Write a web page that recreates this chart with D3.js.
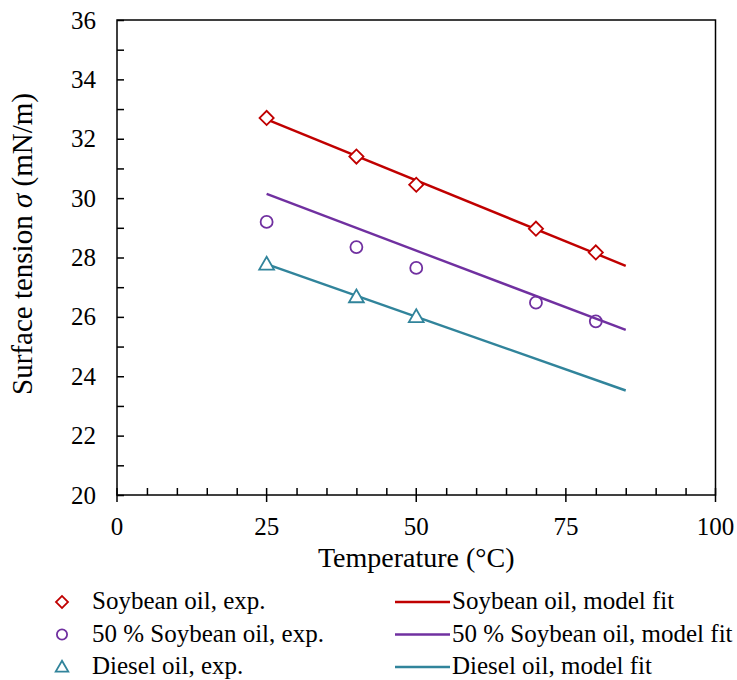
<!DOCTYPE html>
<html>
<head>
<meta charset="utf-8">
<script src="https://cdn.jsdelivr.net/npm/d3@7"></script>
<style>
  body { margin: 0; background: #fff; }
  text { font-family: "Liberation Serif", "Times New Roman", serif; fill: #000; }
</style>
</head>
<body>
<svg id="chart" width="737" height="680"></svg>
<script>
// measured points
const soyT = [25, 40, 50, 70, 80];
const soySigma = [32.7, 31.4, 30.45, 28.97, 28.17];
const mixT = [25, 40, 50, 70, 80];
const mixSigma = [29.2, 28.35, 27.65, 26.48, 25.85];
const dieselT = [25, 40, 50];
const dieselSigma = [27.77, 26.67, 26.0];

// model fit end points
const fitT = [25, 85];
const soyFit = [32.65, 27.72];
const mixFit = [30.14, 25.56];
const dieselFit = [27.78, 23.52];

const xTicks = [0, 25, 50, 75, 100];
const yTicks = [20, 22, 24, 26, 28, 30, 32, 34, 36];

const colors = { soy: '#C00000', mix: '#7030A0', diesel: '#31849B' };

const svg = d3.select('#chart');
const x = d3.scaleLinear().domain([0, 100]).range([117, 715.5]);
const y = d3.scaleLinear().domain([20, 36]).range([495, 20]);

// frame
svg.append('rect')
  .attr('x', x(0)).attr('y', y(36))
  .attr('width', x(100) - x(0)).attr('height', y(20) - y(36))
  .attr('fill', 'none').attr('stroke', '#000').attr('stroke-width', 1.5);

// y axis: ticks inside
const yAxis = d3.axisRight(y).tickValues(d3.range(20, 36.1, 1)).tickSize(7).tickFormat('');
svg.append('g').attr('transform', 'translate(' + x(0) + ',0)').call(yAxis)
  .call(g => g.select('.domain').remove())
  .call(g => g.selectAll('line').attr('stroke-width', 1.5));

svg.append('g').selectAll('text').data(yTicks).enter().append('text')
  .attr('x', 96).attr('y', d => y(d) + 8.5)
  .attr('text-anchor', 'end').attr('font-size', 25)
  .text(d => d);

// x axis: minor ticks inside, major ticks cross
const xAxis = d3.axisTop(x).tickValues(d3.range(5, 100, 5).filter(d => d % 25 !== 0)).tickSize(7).tickFormat('');
svg.append('g').attr('transform', 'translate(0,' + y(20) + ')').call(xAxis)
  .call(g => g.select('.domain').remove())
  .call(g => g.selectAll('line').attr('stroke-width', 1.5));

svg.append('g').selectAll('line').data(xTicks).enter().append('line')
  .attr('x1', d => x(d)).attr('x2', d => x(d))
  .attr('y1', y(20) - 7).attr('y2', y(20) + 7)
  .attr('stroke', '#000').attr('stroke-width', 1.5);

svg.append('g').selectAll('text').data(xTicks).enter().append('text')
  .attr('x', d => x(d)).attr('y', 535)
  .attr('text-anchor', 'middle').attr('font-size', 25)
  .text(d => d);

// axis titles
svg.append('text')
  .attr('x', (x(0) + x(100)) / 2).attr('y', 567)
  .attr('text-anchor', 'middle').attr('font-size', 28)
  .text('Temperature (°C)');

const yt = svg.append('text')
  .attr('transform', 'translate(32,244) rotate(-90)')
  .attr('text-anchor', 'middle').attr('font-size', 29);
yt.append('tspan').text('Surface tension ');
yt.append('tspan').attr('font-style', 'italic').text('σ');
yt.append('tspan').text(' (mN/m)');

// fit lines
const line = d3.line().x(d => x(d[0])).y(d => y(d[1]));
[[soyFit, colors.soy], [mixFit, colors.mix], [dieselFit, colors.diesel]].forEach(function(s) {
  svg.append('path')
    .attr('d', line(d3.zip(fitT, s[0])))
    .attr('fill', 'none').attr('stroke', s[1]).attr('stroke-width', 2.4);
});

// markers
function marker(g, kind, color, cx, cy, scale) {
  if (kind === 'diamond') {
    g.append('path').attr('d', d3.symbol().type(d3.symbolSquare).size(100 * scale * scale)())
      .attr('transform', 'translate(' + cx + ',' + cy + ') rotate(45)')
      .attr('fill', '#fff').attr('stroke', color).attr('stroke-width', 1.8);
  } else if (kind === 'circle') {
    g.append('circle').attr('cx', cx).attr('cy', cy).attr('r', 6 * scale)
      .attr('fill', 'none').attr('stroke', color).attr('stroke-width', 1.8);
  } else {
    g.append('path').attr('d', d3.symbol().type(d3.symbolTriangle).size(95 * scale * scale)())
      .attr('transform', 'translate(' + cx + ',' + (cy + 1) + ')')
      .attr('fill', '#fff').attr('stroke', color).attr('stroke-width', 1.8);
  }
}

function drawMarkers(ts, vs, kind, color) {
  const g = svg.append('g');
  d3.zip(ts, vs).forEach(function(p) {
    marker(g, kind, color, x(p[0]), y(p[1]), 1);
  });
}

drawMarkers(soyT, soySigma, 'diamond', colors.soy);
drawMarkers(mixT, mixSigma, 'circle', colors.mix);
drawMarkers(dieselT, dieselSigma, 'triangle', colors.diesel);

// legend
const legendRows = [
  { kind: 'diamond', color: colors.soy, exp: 'Soybean oil, exp.', fit: 'Soybean oil, model fit' },
  { kind: 'circle', color: colors.mix, exp: '50 % Soybean oil, exp.', fit: '50 % Soybean oil, model fit' },
  { kind: 'triangle', color: colors.diesel, exp: 'Diesel oil, exp.', fit: 'Diesel oil, model fit' }
];

legendRows.forEach(function(r, i) {
  let base = 609 + i * 32.5;
  let cy = base - 7;
  let g = svg.append('g');
  marker(g, r.kind, r.color, 62, cy, 0.85);
  g.append('text').attr('x', 92).attr('y', base).attr('font-size', 25).text(r.exp);
  g.append('line').attr('x1', 395).attr('x2', 450).attr('y1', cy).attr('y2', cy)
    .attr('stroke', r.color).attr('stroke-width', 2.4);
  g.append('text').attr('x', 452).attr('y', base).attr('font-size', 25).text(r.fit);
});
</script>
</body>
</html>
